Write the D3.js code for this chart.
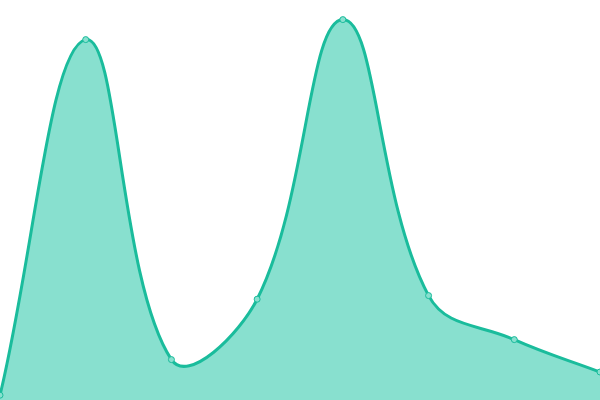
<!DOCTYPE html>
<html><head><meta charset="utf-8">
<script src="https://cdn.jsdelivr.net/npm/d3@7"></script>
<style>html,body{margin:0;padding:0;background:#fff;}svg{display:block;}</style>
</head><body>
<svg id="chart" width="600" height="400"></svg>
<script>
const categories = [0, 1, 2, 3, 4, 5, 6, 7];
const values = [1.2, 90.1, 10.1, 25.2, 95.1, 26.1, 15.1, 7];

const W = 600, H = 400;
const svg = d3.select("#chart");
const x = d3.scaleLinear().domain([0, categories.length - 1]).range([0, W]);
const y = d3.scaleLinear().domain([0, 100]).range([H, 0]);
const data = categories.map((c, i) => ({c, v: values[i]}));

// Tension spline (distance-weighted control points), as a D3 curve factory
function SplineCurve(context, tension) { this._context = context; this._t = tension; }
SplineCurve.prototype = {
  areaStart() { this._line = 0; },
  areaEnd() { this._line = NaN; },
  lineStart() { this._xs = []; this._ys = []; },
  point(px, py) { this._xs.push(+px); this._ys.push(+py); },
  lineEnd() {
    const xs = this._xs, ys = this._ys, n = xs.length, c = this._context, t = this._t;
    if (n) {
      const cpPrev = [], cpNext = [];
      for (let i = 0; i < n; i++) {
        const p = i > 0 ? i - 1 : i, q = i < n - 1 ? i + 1 : i;
        const d01 = Math.hypot(xs[i] - xs[p], ys[i] - ys[p]);
        const d12 = Math.hypot(xs[q] - xs[i], ys[q] - ys[i]);
        let s01 = d01 / (d01 + d12), s12 = d12 / (d01 + d12);
        if (isNaN(s01)) s01 = 0; if (isNaN(s12)) s12 = 0;
        const fa = t * s01, fb = t * s12;
        cpPrev.push([xs[i] - fa * (xs[q] - xs[p]), ys[i] - fa * (ys[q] - ys[p])]);
        cpNext.push([xs[i] + fb * (xs[q] - xs[p]), ys[i] + fb * (ys[q] - ys[p])]);
      }
      if (this._line) c.lineTo(xs[0], ys[0]); else c.moveTo(xs[0], ys[0]);
      for (let i = 1; i < n; i++) {
        c.bezierCurveTo(cpNext[i-1][0], cpNext[i-1][1], cpPrev[i][0], cpPrev[i][1], xs[i], ys[i]);
      }
    }
    if (this._line || (this._line !== 0 && n === 1)) c.closePath();
    this._line = 1 - this._line;
  }
};
const curve = ctx => new SplineCurve(ctx, 0.4);

const area = d3.area().x(d => x(d.c)).y0(H).y1(d => y(d.v)).curve(curve);
const line = d3.line().x(d => x(d.c)).y(d => y(d.v)).curve(curve);

svg.append("path").datum(data).attr("d", area).attr("fill", "#88e0cf");
svg.append("path").datum(data).attr("d", line).attr("fill", "none").attr("stroke", "#1abc9c").attr("stroke-width", 3);
svg.selectAll("circle").data(data).join("circle")
  .attr("cx", d => x(d.c)).attr("cy", d => y(d.v)).attr("r", 3)
  .attr("fill", "#88e0cf").attr("stroke", "#1abc9c").attr("stroke-width", 1);
</script>
</body></html>
